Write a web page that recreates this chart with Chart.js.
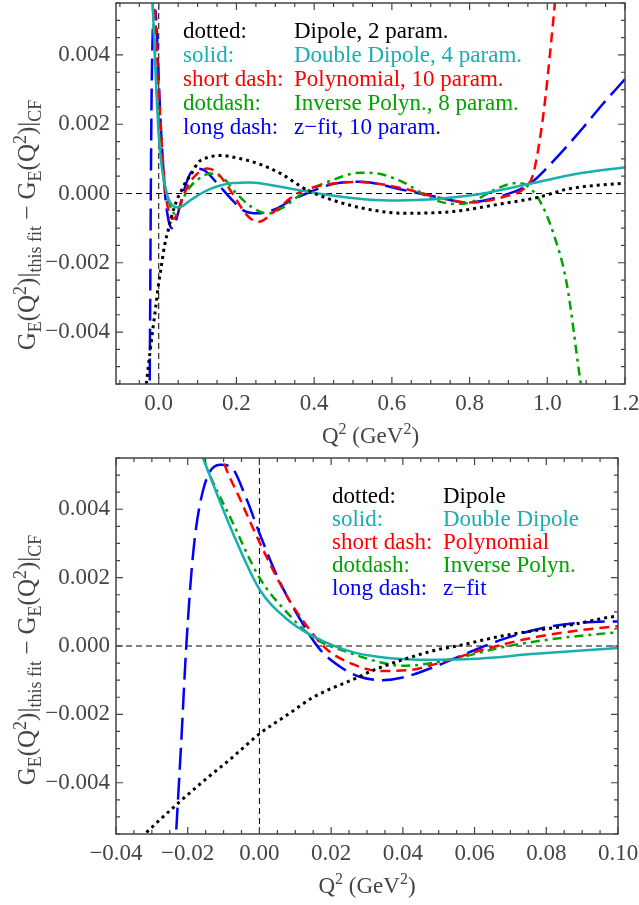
<!DOCTYPE html>
<html>
<head>
<meta charset="utf-8">
<script src="https://cdn.jsdelivr.net/npm/chart.js@4.4.0/dist/chart.umd.min.js"></script>
<style>
  html, body { margin: 0; padding: 0; background: #fff; }
  canvas { display: block; }
</style>
</head>
<body>
<canvas id="panelTop" width="639" height="450"></canvas>
<canvas id="panelBottom" width="639" height="455"></canvas>
<script>
/* ---------- curves: G_E(fit) - G_E(CF) ---------- */
const dipoleX = [-0.04, -0.032, -0.023, -0.015, -0.008, 0, 0.008, 0.015, 0.0265, 0.0327, 0.04, 0.05, 0.055, 0.068, 0.086, 0.1, 0.13, 0.16, 0.2, 0.254, 0.313, 0.382, 0.45, 0.536, 0.63, 0.757, 0.886, 0.973, 1.058, 1.2];
const dipoleY = [-0.0063, -0.0055, -0.00463, -0.0039, -0.0033, -0.00257, -0.002, -0.0015, -0.00096, -0.00067, -0.0004, -0.0001, 0.0, 0.0003, 0.0006, 0.00088, 0.00105, 0.0011, 0.00103, 0.00087, 0.00058, 0.0001, -0.0002, -0.00045, -0.00057, -0.00052, -0.00029, -0.00012, 0.00014, 0.0003];

const doubleDipoleX = [-0.02, -0.0161, -0.0074, 0, 0.0076, 0.0149, 0.026, 0.0335, 0.045, 0.0586, 0.077, 0.1, 0.13, 0.19, 0.235, 0.32, 0.41, 0.536, 0.62, 0.8, 0.955, 1.077, 1.2];
const doubleDipoleY = [0.0067, 0.0056, 0.0033, 0.00166, 0.00079, 0.00029, -0.00018, -0.00032, -0.0004, -0.00038, -0.00023, -0.00006, 0.00012, 0.0003, 0.00032, 0.00018, 0.0, -0.00017, -0.0002, -0.00006, 0.00028, 0.00057, 0.00076];

const polyX = [-0.013, -0.0105, -0.0054, 0, 0.0076, 0.0131, 0.0187, 0.026, 0.0335, 0.042, 0.049, 0.063, 0.077, 0.1, 0.124, 0.15, 0.19, 0.225, 0.255, 0.3, 0.356, 0.45, 0.52, 0.63, 0.716, 0.8, 0.886, 0.948, 0.964, 0.989, 1.012, 1.03];
const polyY = [0.0067, 0.00556, 0.0043, 0.00304, 0.00147, 0.0006, -0.00009, -0.00053, -0.00073, -0.0007, -0.00053, -0.00009, 0.00026, 0.00058, 0.00072, 0.0006, 0.0, -0.0006, -0.00082, -0.0005, 0.0, 0.00029, 0.00033, 0.00014, -0.0001, -0.00026, -0.0001, 0.00023, 0.00057, 0.0022, 0.0046, 0.0068];

const invPolyX = [-0.019, -0.0156, -0.0074, 0, 0.0076, 0.0149, 0.026, 0.0335, 0.04, 0.054, 0.068, 0.0816, 0.1, 0.133, 0.17, 0.2, 0.24, 0.28, 0.32, 0.37, 0.45, 0.52, 0.56, 0.63, 0.7, 0.76, 0.8, 0.87, 0.92, 0.947, 0.98, 1.016, 1.05, 1.085, 1.1];
const invPolyY = [0.0068, 0.0055, 0.0036, 0.002, 0.00099, 0.00026, -0.00023, -0.00047, -0.00058, -0.00038, -0.00003, 0.0002, 0.0004, 0.00058, 0.0004, 0.0, -0.0004, -0.00058, -0.0004, 0.0, 0.0004, 0.0006, 0.00058, 0.00032, -0.00014, -0.0003, -0.00026, 0.00014, 0.0003, 0.00023, -0.0002, -0.00116, -0.0026, -0.0054, -0.0065];

const zfitX = [-0.0245, -0.0233, -0.0218, -0.0204, -0.0184, -0.0156, -0.011, -0.0082, -0.0036, 0, 0.0057, 0.0113, 0.0168, 0.0224, 0.028, 0.034, 0.04, 0.049, 0.0586, 0.068, 0.0816, 0.1, 0.12, 0.15, 0.19, 0.22, 0.255, 0.3, 0.34, 0.38, 0.45, 0.52, 0.63, 0.716, 0.793, 0.886, 0.955, 1.025, 1.092, 1.144, 1.2];
const zfitY = [-0.008, -0.0056, -0.0028, 0.0, 0.0028, 0.0046, 0.0053, 0.00526, 0.0043, 0.0033, 0.00187, 0.00079, -0.00009, -0.0006, -0.0009, -0.001, -0.00092, -0.0006, -0.00018, 0.0002, 0.00058, 0.00072, 0.00065, 0.0003, -0.0002, -0.0005, -0.00057, -0.00045, -0.0002, 0.0, 0.00028, 0.00034, 0.0001, -0.0001, -0.00026, -0.00006, 0.00028, 0.00105, 0.0019, 0.0026, 0.0033];

/* ---------- ticks and labels ---------- */
const topXTicks = [0, 0.2, 0.4, 0.6, 0.8, 1.0, 1.2];
const bottomXTicks = [-0.04, -0.02, 0, 0.02, 0.04, 0.06, 0.08, 0.10];
const yTicks = [-0.004, -0.002, 0, 0.002, 0.004];

const legendKeys = ['dotted:', 'solid:', 'short dash:', 'dotdash:', 'long dash:'];
const topLegendNames = ['Dipole, 2 param.', 'Double Dipole, 4 param.', 'Polynomial, 10 param.', 'Inverse Polyn., 8 param.', 'z\u2212fit, 10 param.'];
const bottomLegendNames = ['Dipole', 'Double Dipole', 'Polynomial', 'Inverse Polyn.', 'z\u2212fit'];

const cores = { preto: '#000000', ciano: '#1AAFAF', vermelho: '#FF0000', verde: '#00A300', azul: '#0000FF', eixo: '#444444' };
const SERIF = '"Liberation Serif", "DejaVu Serif", serif';

const series = [
  { x: dipoleX, y: dipoleY, color: cores.preto, dash: [3, 4], width: 3 },
  { x: doubleDipoleX, y: doubleDipoleY, color: cores.ciano, dash: [], width: 2.5 },
  { x: polyX, y: polyY, color: cores.vermelho, dash: [10, 6], width: 2.5 },
  { x: invPolyX, y: invPolyY, color: cores.verde, dash: [9, 5, 3, 5], width: 2.5 },
  { x: zfitX, y: zfitY, color: cores.azul, dash: [22, 8], width: 2.5 }
];
const legendColors = series.map(s => s.color);

function fmt(v, dec) {
  const s = Math.abs(v).toFixed(dec);
  return (v < -1e-12 ? '\u2212' : '') + s;
}

/* rich text: runs of normal / sub / sup */
function drawRich(ctx, runs, cx, cy, size, rotate) {
  const small = Math.round(size * 0.7);
  let total = 0;
  runs.forEach(r => {
    ctx.font = (r.k === 'n' ? size : small) + 'px ' + SERIF;
    r.w = ctx.measureText(r.t).width;
    total += r.w;
  });
  ctx.save();
  ctx.translate(cx, cy);
  if (rotate) ctx.rotate(-Math.PI / 2);
  ctx.textBaseline = 'alphabetic';
  ctx.textAlign = 'left';
  let xx = -total / 2;
  const base = size * 0.33;
  runs.forEach(r => {
    ctx.font = (r.k === 'n' ? size : small) + 'px ' + SERIF;
    const dy = r.k === 'sub' ? size * 0.22 : (r.k === 'sup' ? -size * 0.38 : 0);
    ctx.fillText(r.t, xx, base + dy);
    xx += r.w;
  });
  ctx.restore();
}

const yTitleRuns = [
  { t: 'G', k: 'n' }, { t: 'E', k: 'sub' }, { t: '(Q', k: 'n' }, { t: '2', k: 'sup' }, { t: ')|', k: 'n' },
  { t: 'this fit', k: 'sub' }, { t: ' \u2212 G', k: 'n' }, { t: 'E', k: 'sub' }, { t: '(Q', k: 'n' },
  { t: '2', k: 'sup' }, { t: ')|', k: 'n' }, { t: 'CF', k: 'sub' }
];
const xTitleRuns = [
  { t: 'Q', k: 'n' }, { t: '2', k: 'sup' }, { t: ' (GeV', k: 'n' }, { t: '2', k: 'sup' }, { t: ')', k: 'n' }
];

/* frame, inward ticks, zero lines, legend and titles */
const moldura = {
  id: 'moldura',
  beforeDatasetsDraw(chart, args, o) {
    const { ctx, chartArea: a, scales } = chart;
    const x0 = scales.x.getPixelForValue(0), y0 = scales.y.getPixelForValue(0);
    ctx.save();
    ctx.strokeStyle = '#000';
    ctx.lineWidth = 1;
    ctx.setLineDash([6, 4]);
    ctx.beginPath();
    ctx.moveTo(a.left, y0); ctx.lineTo(a.right, y0);
    ctx.moveTo(x0, a.top); ctx.lineTo(x0, a.bottom);
    ctx.stroke();
    ctx.restore();
  },
  afterDraw(chart, args, o) {
    const { ctx, chartArea: a, scales } = chart;
    ctx.save();
    ctx.strokeStyle = cores.eixo;
    ctx.lineWidth = 1.5;
    ctx.strokeRect(a.left, a.top, a.right - a.left, a.bottom - a.top);
    ctx.lineWidth = 1.2;
    const marks = (scale, step, major) => {
      const out = [];
      const k0 = Math.ceil(scale.min / step - 1e-6), k1 = Math.floor(scale.max / step + 1e-6);
      for (let k = k0; k <= k1; k++) {
        const v = k * step;
        const r = v / major;
        out.push({ p: scale.getPixelForValue(v), big: Math.abs(r - Math.round(r)) < 1e-6 });
      }
      return out;
    };
    ctx.beginPath();
    marks(scales.x, o.xMinor, o.xMajor).forEach(m => {
      const L = m.big ? 7 : 4;
      ctx.moveTo(m.p, a.bottom); ctx.lineTo(m.p, a.bottom - L);
      ctx.moveTo(m.p, a.top); ctx.lineTo(m.p, a.top + L);
    });
    marks(scales.y, 0.0005, 0.002).forEach(m => {
      const L = m.big ? 7 : 4;
      ctx.moveTo(a.left, m.p); ctx.lineTo(a.left + L, m.p);
      ctx.moveTo(a.right, m.p); ctx.lineTo(a.right - L, m.p);
    });
    ctx.stroke();

    // legend
    ctx.font = '23px ' + SERIF;
    ctx.textBaseline = 'middle';
    ctx.textAlign = 'left';
    legendKeys.forEach((k, i) => {
      ctx.fillStyle = legendColors[i];
      const yy = o.legY + i * o.legDy;
      ctx.fillText(k, o.legX1, yy);
      ctx.fillText(o.names[i], o.legX2, yy);
    });

    // axis titles
    ctx.fillStyle = cores.eixo;
    drawRich(ctx, xTitleRuns, (a.left + a.right) / 2, o.xTitleY, 23, false);
    drawRich(ctx, yTitleRuns, o.yTitleX, o.yTitleY, 25, true);
    ctx.restore();
  }
};

function semPadding(s) {
  s.paddingTop = 0; s.paddingBottom = 0; s.paddingLeft = 0; s.paddingRight = 0;
}

function painel(id, cfg) {
  return new Chart(document.getElementById(id), {
    type: 'line',
    data: {
      datasets: series.map(s => ({
        data: s.x.map((x, i) => ({ x: x, y: s.y[i] })),
        borderColor: s.color,
        borderDash: s.dash,
        borderWidth: s.width,
        pointRadius: 0,
        fill: false,
        cubicInterpolationMode: 'monotone',
        clip: 0
      }))
    },
    options: {
      responsive: false,
      animation: false,
      events: [],
      layout: { padding: cfg.padding },
      plugins: {
        legend: { display: false },
        tooltip: { enabled: false },
        moldura: cfg.moldura
      },
      scales: {
        x: {
          type: 'linear', min: cfg.xMin, max: cfg.xMax,
          afterBuildTicks: s => { s.ticks = cfg.xTicks.map(v => ({ value: v })); },
          afterFit: s => { s.height = cfg.xHeight; semPadding(s); },
          grid: { display: false, drawTicks: false },
          border: { display: false },
          ticks: {
            font: { family: SERIF, size: 23 }, color: cores.eixo, padding: 6,
            maxRotation: 0, autoSkip: false,
            callback: v => fmt(v, cfg.xDec)
          }
        },
        y: {
          type: 'linear', min: -0.0055, max: 0.0055,
          afterBuildTicks: s => { s.ticks = yTicks.map(v => ({ value: v })); },
          afterFit: s => { s.width = 116; semPadding(s); },
          grid: { display: false, drawTicks: false },
          border: { display: false },
          ticks: {
            font: { family: SERIF, size: 23 }, color: cores.eixo, padding: 6,
            autoSkip: false,
            callback: v => fmt(v, 3)
          }
        }
      }
    },
    plugins: [moldura]
  });
}

painel('panelTop', {
  xMin: -0.11, xMax: 1.2, xTicks: topXTicks, xDec: 1, xHeight: 66,
  padding: { left: 0, right: 14, top: 3, bottom: 0 },
  moldura: { xMinor: 0.05, xMajor: 0.2, legX1: 183, legX2: 294, legY: 32, legDy: 24,
             names: topLegendNames, xTitleY: 435, yTitleX: 27, yTitleY: 225 }
});

painel('panelBottom', {
  xMin: -0.04, xMax: 0.1, xTicks: bottomXTicks, xDec: 2, xHeight: 71,
  padding: { left: 0, right: 21, top: 8, bottom: 0 },
  moldura: { xMinor: 0.005, xMajor: 0.02, legX1: 332, legX2: 443, legY: 47, legDy: 23,
             names: bottomLegendNames, xTitleY: 435, yTitleX: 27, yTitleY: 210 }
});
</script>
</body>
</html>
